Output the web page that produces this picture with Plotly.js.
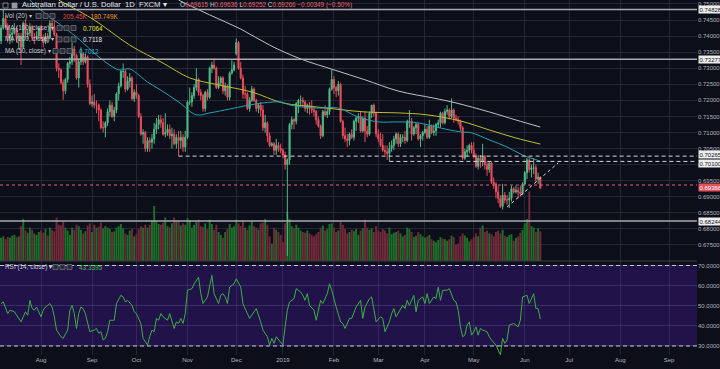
<!DOCTYPE html>
<html><head><meta charset="utf-8">
<script src="https://cdn.plot.ly/plotly-3.0.1.min.js"></script>
<style>html,body{margin:0;padding:0;background:#0c0f1a;overflow:hidden}#chart{width:720px;height:369px}</style>
</head><body><div id="chart"></div>
<script>
// ---------- DATA ----------
const startDate = '2018-07-06'; // first daily bar (weekdays follow)
const open = [
0.7385,
0.7425,0.7455,0.7430,0.7395,0.7405,
0.7410,0.7425,0.7390,0.7400,0.7365,
0.7440,0.7405,0.7410,0.7430,0.7395,
0.7395,0.7400,0.7425,0.7395,0.7380,
0.7400,0.7395,0.7440,0.7430,0.7405,
0.7300,0.7295,0.7255,0.7230,0.7265,
0.7315,0.7320,0.7360,0.7340,0.7270,
0.7320,0.7345,0.7320,0.7335,0.7250,
0.7190,0.7195,0.7185,0.7185,0.7170,
0.7115,0.7115,0.7130,0.7165,0.7185,
0.7150,0.7170,0.7220,0.7245,0.7290,
0.7290,0.7235,0.7260,0.7270,0.7205,
0.7225,0.7215,0.7150,0.7095,0.7100,
0.7050,0.7075,0.7070,0.7080,0.7110,
0.7125,0.7140,0.7130,0.7095,0.7100,
0.7110,0.7090,0.7095,0.7065,0.7085,
0.7075,0.7085,0.7055,0.7085,0.7195,
0.7195,0.7215,0.7240,0.7265,0.7225,
0.7215,0.7175,0.7225,0.7210,0.7300,
0.7310,0.7300,0.7240,0.7255,0.7270,
0.7230,0.7245,0.7210,0.7285,0.7295,
0.7345,0.7380,0.7300,0.7270,0.7220,
0.7220,0.7175,0.7200,0.7235,0.7200,
0.7175,0.7185,0.7170,0.7115,0.7130,
0.7090,0.7060,0.7065,0.7045,0.7060,
0.7050,0.7045,0.7030,0.7000,0.7015,
0.7125,0.7140,0.7135,0.7190,0.7200,
0.7200,0.7195,0.7175,0.7185,0.7175,
0.7170,0.7165,0.7140,0.7120,0.7090,
0.7165,0.7155,0.7165,0.7235,0.7265,
0.7240,0.7230,0.7250,0.7135,0.7090,
0.7080,0.7075,0.7095,0.7085,0.7135,
0.7145,0.7150,0.7105,0.7145,0.7105,
0.7095,0.7160,0.7185,0.7160,0.7095,
0.7080,0.7060,0.7045,0.7040,0.7035,
0.7050,0.7060,0.7080,0.7095,0.7065,
0.7085,0.7085,0.7075,0.7135,0.7135,
0.7095,0.7115,0.7125,0.7080,0.7090,
0.7100,0.7110,0.7085,0.7120,0.7100,
0.7105,0.7125,0.7130,0.7160,0.7130,
0.7165,0.7170,0.7150,0.7170,0.7145,
0.7140,0.7135,0.7115,0.7020,0.7040,
0.7045,0.7060,0.7045,0.7025,0.6995,
0.7020,0.7010,0.7025,0.7000,0.6985,
0.7005,0.6945,0.6940,0.6915,0.6895,
0.6870,0.6905,0.6890,0.6890,0.6895,
0.6925,0.6915,0.6920,0.6915,0.6910,
0.6940,0.6975,0.7015,0.6985,0.6990,
0.6990,0.6955,0.69615];
const high = [
0.7435,
0.7483,0.7465,0.7440,0.7420,0.7425,
0.7440,0.7430,0.7410,0.7410,0.7445,
0.7450,0.7420,0.7440,0.7435,0.7410,
0.7415,0.7430,0.7435,0.7405,0.7410,
0.7410,0.7450,0.7455,0.7450,0.7410,
0.7315,0.7300,0.7265,0.7270,0.7320,
0.7335,0.7380,0.7370,0.7345,0.7330,
0.7365,0.7350,0.7345,0.7340,0.7265,
0.7215,0.7220,0.7200,0.7190,0.7175,
0.7135,0.7135,0.7175,0.7200,0.7195,
0.7180,0.7225,0.7255,0.7295,0.7315,
0.7295,0.7275,0.7285,0.7275,0.7235,
0.7250,0.7220,0.7160,0.7110,0.7105,
0.7085,0.7085,0.7095,0.7130,0.7145,
0.7155,0.7155,0.7145,0.7160,0.7125,
0.7125,0.7115,0.7110,0.7095,0.7105,
0.7105,0.7095,0.7105,0.7200,0.7240,
0.7225,0.7250,0.7300,0.7270,0.7235,
0.7220,0.7230,0.7235,0.7305,0.7320,
0.7330,0.7305,0.7275,0.7275,0.7275,
0.7255,0.7250,0.7290,0.7325,0.7320,
0.7393,0.7385,0.7320,0.7280,0.7245,
0.7225,0.7210,0.7245,0.7240,0.7205,
0.7190,0.7195,0.7185,0.7155,0.7135,
0.7100,0.7070,0.7070,0.7080,0.7070,
0.7065,0.7050,0.7040,0.7020,0.7130,
0.7150,0.7145,0.7195,0.7205,0.7215,
0.7210,0.7200,0.7190,0.7195,0.7200,
0.7180,0.7170,0.7150,0.7125,0.7170,
0.7185,0.7175,0.7240,0.7295,0.7275,
0.7245,0.7260,0.7255,0.7140,0.7115,
0.7095,0.7100,0.7110,0.7140,0.7150,
0.7160,0.7165,0.7150,0.7165,0.7120,
0.7165,0.7185,0.7190,0.7165,0.7110,
0.7100,0.7095,0.7060,0.7060,0.7070,
0.7075,0.7090,0.7100,0.7100,0.7095,
0.7095,0.7105,0.7140,0.7170,0.7145,
0.7120,0.7130,0.7130,0.7095,0.7105,
0.7125,0.7120,0.7140,0.7125,0.7125,
0.7130,0.7140,0.7165,0.7165,0.7175,
0.7185,0.7175,0.7206,0.7175,0.7155,
0.7150,0.7140,0.7120,0.7050,0.7060,
0.7065,0.7070,0.7070,0.7035,0.7030,
0.7030,0.7065,0.7030,0.7010,0.7010,
0.7010,0.6960,0.6945,0.6935,0.6905,
0.6940,0.6915,0.6905,0.6915,0.6935,
0.6930,0.6935,0.6930,0.6935,0.6945,
0.6980,0.7020,0.7020,0.7000,0.7020,
0.7000,0.6975,0.69636];
const low = [
0.7375,
0.7420,0.7425,0.7380,0.7375,0.7380,
0.7405,0.7380,0.7360,0.7310,0.7360,
0.7395,0.7390,0.7400,0.7385,0.7375,
0.7390,0.7390,0.7390,0.7365,0.7375,
0.7380,0.7390,0.7415,0.7400,0.7290,
0.7270,0.7250,0.7202,0.7220,0.7255,
0.7300,0.7310,0.7320,0.7265,0.7240,
0.7310,0.7310,0.7315,0.7240,0.7185,
0.7180,0.7175,0.7160,0.7135,0.7110,
0.7100,0.7085,0.7120,0.7150,0.7145,
0.7135,0.7160,0.7200,0.7240,0.7270,
0.7225,0.7230,0.7240,0.7200,0.7195,
0.7205,0.7145,0.7090,0.7065,0.7040,
0.7040,0.7040,0.7050,0.7065,0.7095,
0.7110,0.7115,0.7090,0.7085,0.7090,
0.7080,0.7050,0.7060,0.7050,0.70265,
0.7050,0.7040,0.7040,0.7080,0.7185,
0.7180,0.7205,0.7230,0.7215,0.7200,
0.7165,0.7165,0.7200,0.7205,0.7285,
0.7295,0.7235,0.7235,0.7245,0.7220,
0.7215,0.7200,0.7200,0.7280,0.7290,
0.7340,0.7295,0.7265,0.7205,0.7205,
0.7170,0.7165,0.7195,0.7195,0.7165,
0.7160,0.7150,0.7105,0.7100,0.7070,
0.7055,0.7055,0.7030,0.7030,0.7040,
0.7035,0.7020,0.6985,0.6716,0.7000,
0.7110,0.7110,0.7125,0.7160,0.7185,
0.7180,0.7165,0.7160,0.7155,0.7160,
0.7150,0.7125,0.7115,0.7080,0.7085,
0.7150,0.7145,0.7155,0.7230,0.7220,
0.7210,0.7215,0.7130,0.7080,0.7070,
0.7055,0.7060,0.7080,0.7075,0.7105,
0.7130,0.7100,0.7100,0.7070,0.7085,
0.7090,0.7145,0.7150,0.7085,0.7070,
0.7055,0.7040,0.7030,0.7015,0.7010,
0.7040,0.7045,0.7065,0.7055,0.7055,
0.7070,0.7065,0.7070,0.7115,0.7075,
0.7090,0.7095,0.7075,0.7055,0.7075,
0.7095,0.7080,0.7080,0.7095,0.7090,
0.7090,0.7115,0.7115,0.7125,0.7125,
0.7155,0.7140,0.7145,0.7130,0.7135,
0.7125,0.7105,0.7015,0.7015,0.7025,
0.7035,0.7035,0.7020,0.6990,0.6985,
0.6990,0.6995,0.6985,0.6965,0.6975,
0.6940,0.6925,0.6895,0.6880,0.6865,
0.6860,0.6880,0.6875,0.6865,0.6885,
0.6910,0.6910,0.6895,0.6900,0.6905,
0.6935,0.6955,0.6975,0.6960,0.6970,
0.6945,0.6940,0.69252];
const close = [
0.7425,
0.7455,0.7430,0.7395,0.7405,0.7410,
0.7425,0.7390,0.7400,0.7365,0.7440,
0.7405,0.7410,0.7430,0.7395,0.7395,
0.7400,0.7425,0.7395,0.7380,0.7400,
0.7395,0.7440,0.7430,0.7405,0.7300,
0.7295,0.7255,0.7230,0.7265,0.7315,
0.7320,0.7360,0.7340,0.7270,0.7320,
0.7345,0.7320,0.7335,0.7250,0.7190,
0.7195,0.7185,0.7185,0.7170,0.7115,
0.7115,0.7130,0.7165,0.7185,0.7150,
0.7170,0.7220,0.7245,0.7290,0.7290,
0.7235,0.7260,0.7270,0.7205,0.7225,
0.7215,0.7150,0.7095,0.7100,0.7050,
0.7075,0.7070,0.7080,0.7110,0.7125,
0.7140,0.7130,0.7095,0.7100,0.7110,
0.7090,0.7095,0.7065,0.7085,0.7075,
0.7085,0.7055,0.7085,0.7195,0.7195,
0.7215,0.7240,0.7265,0.7225,0.7215,
0.7175,0.7225,0.7210,0.7300,0.7310,
0.7300,0.7240,0.7255,0.7270,0.7230,
0.7245,0.7210,0.7285,0.7295,0.7310,
0.7380,0.7300,0.7270,0.7220,0.7220,
0.7175,0.7200,0.7235,0.7200,0.7175,
0.7185,0.7170,0.7115,0.7130,0.7090,
0.7060,0.7065,0.7045,0.7060,0.7050,
0.7045,0.7030,0.7000,0.7015,0.7125,
0.7140,0.7135,0.7190,0.7200,0.7200,
0.7195,0.7175,0.7185,0.7175,0.7170,
0.7165,0.7140,0.7120,0.7090,0.7165,
0.7155,0.7165,0.7235,0.7265,0.7240,
0.7230,0.7250,0.7135,0.7090,0.7080,
0.7075,0.7095,0.7085,0.7135,0.7145,
0.7150,0.7105,0.7145,0.7105,0.7095,
0.7160,0.7185,0.7160,0.7095,0.7080,
0.7060,0.7045,0.7040,0.7035,0.7050,
0.7060,0.7080,0.7095,0.7065,0.7085,
0.7085,0.7075,0.7135,0.7135,0.7095,
0.7115,0.7125,0.7080,0.7090,0.7100,
0.7110,0.7085,0.7120,0.7100,0.7105,
0.7125,0.7130,0.7160,0.7130,0.7165,
0.7170,0.7150,0.7170,0.7145,0.7140,
0.7135,0.7115,0.7020,0.7040,0.7045,
0.7060,0.7045,0.7025,0.6995,0.7020,
0.7010,0.7025,0.7000,0.6985,0.7005,
0.6945,0.6940,0.6915,0.6895,0.6870,
0.6905,0.6890,0.6890,0.6895,0.6925,
0.6915,0.6920,0.6915,0.6910,0.6940,
0.6975,0.7015,0.6985,0.6990,0.6990,
0.6955,0.69615,0.69266];
const volumeK = [
160,
170,150,165,160,175, 180,165,170,240,290, 210,195,230,215,190, 180,200,210,195,220,
175,230,215,205,300, 250,245,270,230,210, 180,230,215,250,240, 215,190,205,245,260,
200,250,230,235,265, 225,240,230,220,200, 205,230,240,255,225, 190,180,210,220,170,
185,220,240,230,250, 230,250,280,380,270, 255,250,265,300,240, 230,260,300,270,280,
245,260,250,295,280, 230,250,270,285,240, 235,260,220,285,255, 215,250,200,180,160,
200,220,255,230,240, 285,260,240,280,230, 215,245,270,240,230, 215,260,265,290,250,
170,120,230,215,200, 180,130,260,340,290, 240,225,250,230,210, 200,195,210,190,180,
170,185,200,230,245, 210,220,255,260,230, 200,210,270,250,220, 190,200,215,205,220,
180,210,225,285,230, 215,225,200,240,210, 200,220,210,190,230, 185,195,200,210,190,
170,180,230,220,200, 165,175,200,185,170, 160,170,180,150,140, 130,145,165,155,150,
140,150,175,165,110, 120,170,190,175,160, 135,150,165,190,170, 230,245,200,210,190,
185,170,200,210,190, 215,175,165,180,185, 140,160,170,195,215, 260,290,480,240,230,
200,225,205];

const ma50Dates = ['2018-07-25','2018-08-01','2018-08-23','2018-09-05','2018-09-13','2018-09-19','2018-09-26','2018-10-01','2018-10-08','2018-10-16','2018-10-26','2018-11-07','2018-11-15','2018-11-28','2018-12-07','2018-12-19','2018-12-31','2019-01-04','2019-01-14','2019-01-23','2019-02-05','2019-02-18','2019-03-01','2019-03-14','2019-03-27','2019-04-10','2019-04-23','2019-04-30','2019-05-10','2019-05-22','2019-05-31','2019-06-12'];
const ma50 = [0.7512,0.7481,0.7397,0.7341,0.7310,0.7295,0.7298,0.7285,0.7257,0.7232,0.7195,0.7155,0.7161,0.7173,0.7183,0.7192,0.7195,0.7186,0.7179,0.7176,0.7176,0.7148,0.7133,0.7133,0.7130,0.7114,0.7102,0.7099,0.7077,0.7055,0.7030,0.7011];
const ma100Dates = ['2018-08-13','2018-09-04','2018-09-26','2018-10-17','2018-11-02','2018-11-21','2018-12-12','2019-01-01','2019-01-23','2019-02-21','2019-03-14','2019-04-02','2019-04-23','2019-05-10','2019-05-28','2019-06-12'];
const ma100 = [0.7512,0.7450,0.7372,0.7316,0.7270,0.7248,0.7226,0.7192,0.7179,0.7164,0.7161,0.7155,0.7136,0.7108,0.7083,0.7064];
const ma200Dates = ['2018-10-26','2018-11-15','2018-12-05','2018-12-24','2019-01-11','2019-02-01','2019-02-21','2019-03-14','2019-04-05','2019-04-19','2019-05-10','2019-05-28','2019-06-12'];
const ma200 = [0.7512,0.7466,0.7422,0.7372,0.7329,0.7295,0.7264,0.7229,0.7207,0.7192,0.7164,0.7139,0.7117];

const rsiDates = ['2018-07-06','2018-07-09','2018-07-11','2018-07-12','2018-07-16','2018-07-17','2018-07-19','2018-07-20','2018-07-23','2018-07-24','2018-07-25','2018-07-26','2018-07-27','2018-07-30','2018-07-31',
'2018-08-01','2018-08-02','2018-08-03','2018-08-07','2018-08-08','2018-08-09','2018-08-10','2018-08-14','2018-08-15','2018-08-17','2018-08-20','2018-08-21','2018-08-22','2018-08-23','2018-08-24','2018-08-27','2018-08-28','2018-08-29','2018-08-30','2018-08-31',
'2018-09-04','2018-09-05','2018-09-06','2018-09-07','2018-09-10','2018-09-11','2018-09-12','2018-09-13','2018-09-17','2018-09-18','2018-09-20','2018-09-21','2018-09-24','2018-09-25','2018-09-27','2018-09-28',
'2018-10-01','2018-10-03','2018-10-04','2018-10-08','2018-10-09','2018-10-10','2018-10-11','2018-10-12','2018-10-15','2018-10-16','2018-10-17','2018-10-19','2018-10-22','2018-10-23','2018-10-24','2018-10-25','2018-10-26','2018-10-29','2018-10-30','2018-10-31',
'2018-11-01','2018-11-05','2018-11-06','2018-11-08','2018-11-09','2018-11-12','2018-11-14','2018-11-16','2018-11-19','2018-11-21','2018-11-22','2018-11-23','2018-11-26','2018-11-27','2018-11-28','2018-11-30',
'2018-12-03','2018-12-05','2018-12-06','2018-12-10','2018-12-11','2018-12-13','2018-12-14','2018-12-18','2018-12-19','2018-12-21','2018-12-24','2018-12-25','2018-12-26','2018-12-27','2018-12-31',
'2019-01-01','2019-01-02','2019-01-03','2019-01-04','2019-01-08','2019-01-09','2019-01-11','2019-01-14','2019-01-15','2019-01-16','2019-01-17','2019-01-21','2019-01-22','2019-01-24','2019-01-25','2019-01-29','2019-01-30','2019-01-31',
'2019-02-01','2019-02-04','2019-02-06','2019-02-07','2019-02-08','2019-02-12','2019-02-13','2019-02-15','2019-02-19','2019-02-20','2019-02-21','2019-02-25','2019-02-26','2019-02-27','2019-02-28',
'2019-03-04','2019-03-05','2019-03-06','2019-03-08','2019-03-11','2019-03-12','2019-03-13','2019-03-15','2019-03-18','2019-03-19','2019-03-20','2019-03-21','2019-03-25','2019-03-26','2019-03-27','2019-03-29',
'2019-04-01','2019-04-02','2019-04-03','2019-04-05','2019-04-08','2019-04-09','2019-04-10','2019-04-11','2019-04-15','2019-04-16','2019-04-18','2019-04-19','2019-04-22','2019-04-23','2019-04-24','2019-04-25','2019-04-26','2019-04-29','2019-04-30',
'2019-05-01','2019-05-02','2019-05-03','2019-05-06','2019-05-07','2019-05-09','2019-05-10','2019-05-13','2019-05-15','2019-05-17','2019-05-20','2019-05-21','2019-05-22','2019-05-23','2019-05-27','2019-05-29','2019-05-30','2019-05-31',
'2019-06-04','2019-06-05','2019-06-07','2019-06-10','2019-06-11','2019-06-12'];
const rsi = [51.1,51.9,46.1,47.8,47.0,45.3,42.0,44.5,47.0,45.3,52.7,48.6,47.8,49.4,47.0,
44.5,47.8,49.4,51.1,49.4,44.5,37.9,34.6,33.8,37.9,47.8,50.2,46.1,38.7,46.1,49.4,48.6,46.1,41.2,37.1,
37.9,38.7,36.3,37.1,33.0,33.8,37.1,42.8,42.8,51.1,55.2,54.4,51.9,52.7,50.2,47.0,
46.1,41.2,33.8,30.5,34.6,37.9,37.1,43.7,42.8,46.1,44.5,42.8,46.1,42.0,38.7,42.0,41.2,43.7,41.2,46.1,
57.7,58.5,60.9,64.2,56.0,51.1,54.4,65.1,56.0,51.1,55.2,56.0,54.4,51.1,59.3,60.9,
63.4,59.3,51.1,46.1,43.7,47.0,48.6,42.0,37.9,34.6,30.5,33.8,31.3,34.6,32.1,
30.5,39.5,47.8,51.9,53.5,58.5,56.8,55.2,52.7,56.0,50.2,47.8,42.8,52.7,51.1,56.0,60.9,57.7,
52.7,49.4,42.0,41.2,38.7,43.7,43.7,49.4,52.7,43.7,49.4,53.5,54.4,47.0,42.0,
44.5,43.7,37.1,42.0,46.1,48.6,44.5,48.6,50.2,48.6,52.7,50.2,55.2,47.0,52.7,54.4,
51.1,56.0,51.1,54.4,53.5,59.3,52.7,57.7,57.7,58.5,52.7,51.9,47.8,39.5,34.6,35.4,40.4,42.0,35.4,
37.1,39.5,35.4,38.7,37.9,37.1,34.6,33.0,30.5,25.6,33.8,31.3,33.0,40.4,41.2,39.5,42.8,54.4,
55.2,51.1,56.0,48.6,48.6,43.34];

const priceTicks = [0.675,0.680,0.685,0.690,0.695,0.700,0.705,0.710,0.715,0.720,0.725,0.730,0.735,0.740,0.745,0.750];
const rsiTicks = [30,40,50,60,70];
const monthTickDates = ['2018-08-01','2018-09-03','2018-10-01','2018-11-01','2018-12-03','2019-01-01','2019-02-01','2019-03-01','2019-04-01','2019-05-01','2019-06-03','2019-07-01','2019-08-01','2019-09-02'];
const monthTickLabels = ['Aug','Sep','Oct','Nov','Dec','2019','Feb','Mar','Apr','May','Jun','Jul','Aug','Sep'];

const solidLevels = [0.74828, 0.73277, 0.68244];
const dashedLevels = [0.70265, 0.70100];
const dashedLevelStarts = ['2018-10-26','2019-03-08'];
const currentPrice = 0.69366;
const trendDates = ['2019-05-22','2019-06-24'];
const trendPrices = [0.6868, 0.7005];

const legendValues = {vol:['205.45K','180.749K'], ma100:'0.7064', ma200:'0.7118', ma50:'0.7012', rsi:'43.3395'};
const ohlcText = {o:'0.69615', h:'0.69636', l:'0.69252', c:'0.69266', chg:'−0.00349 (−0.50%)'};

// ---------- BUILD ----------
function tradingDates(start, n){
  const out=[]; const d=new Date(start+'T00:00:00Z');
  while(out.length<n){ const w=d.getUTCDay(); if(w!==0&&w!==6) out.push(d.toISOString().slice(0,10)); d.setUTCDate(d.getUTCDate()+1); }
  return out;
}
const dates = tradingDates(startDate, close.length);

const W=720,H=369,MR=23,MB=14, PW=W-MR, PH=H-MB;
const px = x => x/PW, py = y => 1 - y/PH;
const FONT = 'Liberation Sans, Arial, sans-serif';
const UP='#53b987', DOWN='#eb4d5c';
const BG='#0c0f1a';
const xStart='2018-07-05 12:30', xEnd='2019-09-18 14:24';
const mainDom=[0.2648,1], rsiDom=[0,0.2648];

const volColors = close.map((c,i)=> c>=open[i] ? '#1e6e2a' : '#72293a');

const traces = [
  {type:'bar', x:dates, y:volumeK, yaxis:'y', xaxis:'x', marker:{color:volColors, line:{width:0}}, hoverinfo:'skip'},
  {type:'scatter', mode:'lines', x:ma200Dates, y:ma200, yaxis:'y2', line:{color:'#bfc0c4', width:1, shape:'spline'}, hoverinfo:'skip'},
  {type:'scatter', mode:'lines', x:ma100Dates, y:ma100, yaxis:'y2', line:{color:'#bdbd2e', width:1, shape:'spline'}, hoverinfo:'skip'},
  {type:'scatter', mode:'lines', x:ma50Dates, y:ma50, yaxis:'y2', line:{color:'#21a3b1', width:1, shape:'spline'}, hoverinfo:'skip'},
  {type:'candlestick', x:dates, open, high, low, close, yaxis:'y2', xaxis:'x',
   increasing:{line:{color:UP,width:1}, fillcolor:UP}, decreasing:{line:{color:DOWN,width:1}, fillcolor:DOWN}, whiskerwidth:0, hoverinfo:'skip'},
  {type:'scatter', mode:'lines', x:rsiDates, y:rsi, yaxis:'y3', line:{color:'#3cb043', width:1}, hoverinfo:'skip'}
];

const shapes = [];
shapes.push({type:'rect', xref:'paper', x0:0, x1:1, yref:'y3', y0:30, y1:70, fillcolor:'#21124a', line:{width:0}, layer:'below'});
[30,70].forEach(v=>shapes.push({type:'line', xref:'paper', x0:0, x1:1, yref:'y3', y0:v, y1:v, line:{color:'#c8c8d2', width:1, dash:'4px,3px'}}));
shapes.push({type:'line', xref:'paper', x0:0, x1:1, yref:'paper', y0:mainDom[0], y1:mainDom[0], line:{color:'#3a3e4a', width:1}});
solidLevels.forEach(v=>shapes.push({type:'line', xref:'paper', x0:0, x1:1, yref:'y2', y0:v, y1:v, line:{color:'#a9abb2', width:1.5}}));
dashedLevels.forEach((v,i)=>shapes.push({type:'line', xref:'x', x0:dashedLevelStarts[i], x1:xEnd, yref:'y2', y0:v, y1:v, line:{color:'#d6d7dc', width:1, dash:'4px,3px'}}));
shapes.push({type:'line', xref:'paper', x0:0, x1:1, yref:'y2', y0:currentPrice, y1:currentPrice, line:{color:'#e9616e', width:1, dash:'dot'}});
shapes.push({type:'line', xref:'x', x0:trendDates[0], x1:trendDates[1], yref:'y2', y0:trendPrices[0], y1:trendPrices[1], line:{color:'#d6d7dc', width:1, dash:'dot'}});
function boxes(x, y){ for(let k=0;k<3;k++){ const x0=x+k*7; shapes.push({type:'rect', xref:'paper', yref:'paper', x0:px(x0), x1:px(x0+5), y0:py(y+2.5), y1:py(y-2.5), line:{color:'#6b6e78', width:0.8}, fillcolor:'#2a2d38'}); } }
boxes(36,16); boxes(57,28); boxes(57,39.5); boxes(53,51); boxes(53,267);
shapes.push({type:'rect', xref:'paper', yref:'paper', x0:px(3), x1:px(8), y0:py(8), y1:py(3), line:{color:'#9598a1', width:0.8}});
shapes.push({type:'rect', xref:'paper', yref:'paper', x0:px(12), x1:px(17), y0:py(8), y1:py(3), line:{color:'#9598a1', width:0.8}, fillcolor:'#9598a1'});

function label(x,y,text,size,color){ return {xref:'paper', yref:'paper', x:px(x), y:py(y), xanchor:'left', yanchor:'middle', text, showarrow:false, font:{size, color, family:FONT}}; }
const G='#c9cbd3', R='#e9616e';
const annotations = [
  label(20,5,'Australian Dollar / U.S. Dollar  1D  FXCM ▾',7.6,'#e6e7ea'),
  label(178,5,`<span style="color:${G}">O</span>${ohlcText.o} <span style="color:${G}">H</span>${ohlcText.h} <span style="color:${G}">L</span>${ohlcText.l} <span style="color:${G}">C</span>${ohlcText.c} ${ohlcText.chg}`,6.4,R),
  label(3,16,'Vol (20) ▾',6.4,G),
  label(61,16,`<span style="color:#e04a4a">${legendValues.vol[0]}</span>  <span style="color:#f0962a">${legendValues.vol[1]}</span>`,6.4,R),
  label(3,28,'MA (100, close) ▾',6.4,G), label(81,28,legendValues.ma100,6.4,'#e8e83a'),
  label(3,39.5,'MA (200, close) ▾',6.4,G), label(81,39.5,legendValues.ma200,6.4,'#e8e8e8'),
  label(3,51,'MA (50, close) ▾',6.4,G), label(77,51,legendValues.ma50,6.4,'#30b8d0'),
  label(3,267,'RSI (14, close) ▾',6.4,G), label(77,267,legendValues.rsi,6.4,'#40c040')
];
function priceTag(v, bg, fg, shift){ return {xref:'paper', x:1, xanchor:'left', xshift:1, yref:'y2', y:v, yanchor:'middle', yshift:shift||0, text:v.toFixed(5), showarrow:false, bgcolor:bg, borderpad:0.5, font:{size:6, color:fg, family:FONT}}; }
solidLevels.forEach(v=>annotations.push(priceTag(v,'#eeeeee','#131722',0)));
annotations.push(priceTag(dashedLevels[0],'#eeeeee','#131722',1.5));
annotations.push(priceTag(dashedLevels[1],'#eeeeee','#131722',-2));
annotations.push(priceTag(currentPrice,'#e9505e','#ffffff',-2));

const gridC='#242835', rsiGrid='rgba(120,110,170,0.30)';
const layout = {
  width:W, height:H, margin:{l:0,r:MR,t:0,b:MB}, paper_bgcolor:BG, plot_bgcolor:BG,
  showlegend:false, hovermode:false, dragmode:false, bargap:0.12,
  font:{family:FONT, color:'#b2b5be', size:6},
  xaxis:{type:'date', anchor:'y3', domain:[0,1], range:[xStart,xEnd], rangebreaks:[{bounds:['sat','mon']}],
    rangeslider:{visible:false}, tickvals:monthTickDates, ticktext:monthTickLabels, showgrid:true, gridcolor:'rgba(120,120,150,0.22)',
    zeroline:false, showline:false, ticks:'', tickfont:{size:6, color:'#b2b5be'}, fixedrange:true},
  yaxis:{domain:mainDom, range:[0,1800], visible:false, showgrid:false, zeroline:false, fixedrange:true},
  yaxis2:{overlaying:'y', side:'right', anchor:'x', range:[0.67001,0.75124], tickvals:priceTicks, tickformat:'.5f',
    showgrid:true, gridcolor:gridC, zeroline:false, ticks:'', tickfont:{size:6, color:'#b2b5be'}, fixedrange:true},
  yaxis3:{domain:rsiDom, side:'right', anchor:'x', range:[25.52,72.24], tickvals:rsiTicks, tickformat:'.4f',
    showgrid:true, gridcolor:rsiGrid, zeroline:false, ticks:'', tickfont:{size:6, color:'#b2b5be'}, fixedrange:true},
  shapes, annotations
};
Plotly.newPlot('chart', traces, layout, {staticPlot:true, displayModeBar:false});
</script>
</body></html>
